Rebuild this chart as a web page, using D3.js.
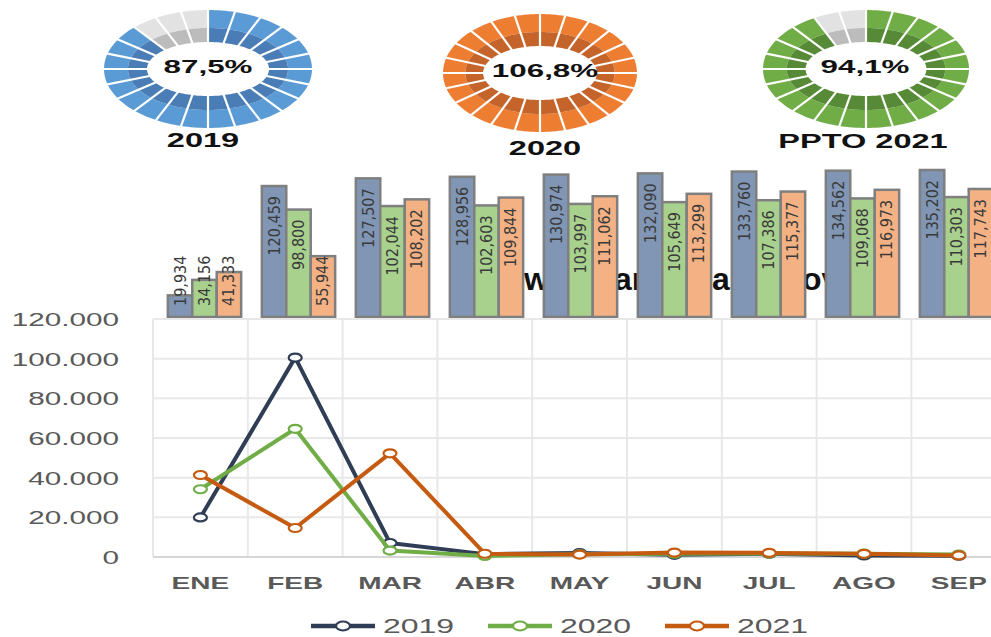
<!DOCTYPE html>
<html>
<head>
<meta charset="utf-8">
<script src="https://cdn.jsdelivr.net/npm/d3@7"></script>
<style>
    body { margin: 0; background: #fff; }
    svg { display: block; font-family: "Liberation Sans", Arial, sans-serif; }
</style>
</head>
<body>
<svg id="chart" width="991" height="637"></svg>
<script>
let months = ["ENE", "FEB", "MAR", "ABR", "MAY", "JUN", "JUL", "AGO", "SEP"];
let years = ["2019", "2020", "2021"];

// accumulated figures (bars)
let acum2019 = [19934, 120459, 127507, 128956, 130974, 132090, 133760, 134562, 135202];
let acum2020 = [34156, 98800, 102044, 102603, 103997, 105649, 107386, 109068, 110303];
let acum2021 = [41333, 55944, 108202, 109844, 111062, 113299, 115377, 116973, 117743];

// monthly figures (lines)
let mes2019 = [19934, 100525, 7048, 1449, 2018, 1116, 1670, 802, 640];
let mes2020 = [34156, 64644, 3244, 559, 1394, 1652, 1737, 1682, 1235];
let mes2021 = [41333, 14611, 52258, 1642, 1218, 2237, 2078, 1596, 770];

let yTicks = [0, 20000, 40000, 60000, 80000, 100000, 120000];

let gaugeNames = ["2019", "2020", "PPTO 2021"];
let gaugePct = [87.5, 106.8, 94.1];

// bits of the title that peek out between the bars
let titleBits = ["w", "ar", "an", "ov"];

let barColors = ["#8096b4", "#a9d18e", "#f4b183"];
let lineColors = ["#2f3d55", "#70ad47", "#c55a11"];

let svg = d3.select("#chart");

let esNum = d3.formatLocale({ decimal: ",", thousands: ".", grouping: [3], currency: ["", ""] });
let enNum = d3.formatLocale({ decimal: ".", thousands: ",", grouping: [3], currency: ["", ""] });

// ---------- gauges ----------
function ringPath(a0, a1, rxo, ryo, rxi, ryi) {
    let pts = [];
    for (let k = 0; k <= 8; k++) {
        let a = a0 + (a1 - a0) * k / 8;
        pts.push([rxo * Math.sin(a), -ryo * Math.cos(a)]);
    }
    for (let k = 8; k >= 0; k--) {
        let a = a0 + (a1 - a0) * k / 8;
        pts.push([rxi * Math.sin(a), -ryi * Math.cos(a)]);
    }
    return d3.line().curve(d3.curveLinearClosed)(pts);
}

function drawGauge(i, cx, cy, rx, light, dark, pctX, labelX, labelY) {
    let g = svg.append("g").attr("transform", "translate(" + cx + "," + cy + ")");
    let n = 24;
    let filled = Math.min(n, Math.floor(gaugePct[i] / 100 * n + 1e-6));
    let k = rx / 104;
    let step = 2 * Math.PI / n;

    for (let s = 0; s < n; s++) {
        let on = s < filled;
        g.append("path")
            .attr("d", ringPath(s * step, (s + 1) * step, 104 * k, 59, 80 * k, 41))
            .attr("fill", on ? light : "#e2e2e2");
        g.append("path")
            .attr("d", ringPath(s * step, (s + 1) * step, 80 * k, 41, 61 * k, 27))
            .attr("fill", on ? dark : "#bcbcbc");
    }
    for (let s = 0; s < n; s++) {
        let a = s * step;
        g.append("line")
            .attr("x1", 58 * k * Math.sin(a)).attr("y1", -25 * Math.cos(a))
            .attr("x2", 108 * k * Math.sin(a)).attr("y2", -62 * Math.cos(a))
            .attr("stroke", "#fff")
            .attr("stroke-width", 2.2);
    }

    svg.append("text")
        .attr("transform", "translate(" + pctX + "," + (cy + 4) + ") scale(1.65,1)")
        .attr("text-anchor", "middle")
        .attr("font-weight", "bold")
        .attr("font-size", 19)
        .attr("fill", "#111")
        .text(esNum.format(".1f")(gaugePct[i]) + "%");

    svg.append("text")
        .attr("transform", "translate(" + labelX + "," + labelY + ") scale(1.55,1)")
        .attr("text-anchor", "middle")
        .attr("font-weight", "bold")
        .attr("font-size", 21)
        .attr("fill", "#111")
        .text(gaugeNames[i]);
}

drawGauge(0, 208, 69, 104, "#5b9bd5", "#4a7db5", 208, 203, 147);
drawGauge(1, 540, 73, 97, "#ed7d31", "#c4642a", 545, 545, 155);
drawGauge(2, 866, 69, 103, "#70ad47", "#578a37", 865, 863, 148);

// ---------- bars (accumulated) ----------
let bitX = [524, 614, 712, 802];
svg.selectAll(".titleBit")
    .data(titleBits)
    .enter()
    .append("text")
    .attr("class", "titleBit")
    .attr("x", (d, i) => bitX[i])
    .attr("y", 290)
    .attr("font-weight", "bold")
    .attr("font-size", 32)
    .attr("fill", "#111")
    .text(d => d);

let acum = [acum2019, acum2020, acum2021];

let xBar = d3.scaleBand()
    .domain(months)
    .range([157.5, 1003.5])
    .paddingInner(0.22)
    .paddingOuter(0.11);

let xSub = d3.scaleBand()
    .domain(years)
    .range([0, xBar.bandwidth()]);

let yBar = d3.scaleLinear()
    .domain([0, d3.max(acum2019)])
    .range([317, 170]);

let barData = [];
months.forEach((m, mi) => {
    years.forEach((y, yi) => {
        barData.push({ month: m, year: y, yi: yi, value: acum[yi][mi] });
    });
});

svg.selectAll(".bar")
    .data(barData)
    .enter()
    .append("rect")
    .attr("class", "bar")
    .attr("x", d => xBar(d.month) + xSub(d.year))
    .attr("y", d => yBar(d.value))
    .attr("width", xSub.bandwidth())
    .attr("height", d => yBar(0) - yBar(d.value))
    .attr("fill", d => barColors[d.yi])
    .attr("stroke", "#7f7f7f")
    .attr("stroke-width", 2.5);

svg.selectAll(".barLabel")
    .data(barData)
    .enter()
    .append("text")
    .attr("class", "barLabel")
    .attr("font-family", "'Liberation Sans Narrow', 'DejaVu Sans Condensed', sans-serif")
    .attr("font-size", 16)
    .attr("fill", "#3a3a3a")
    .attr("text-anchor", "start")
    .attr("dominant-baseline", "central")
    .text(d => enNum.format(",")(d.value))
    .each(function(d) {
        let len = this.getComputedTextLength();
        let cx = xBar(d.month) + xSub(d.year) + xSub.bandwidth() / 2;
        let ys = Math.min(yBar(d.value) + 10 + len, 306);
        d3.select(this).attr("transform", "translate(" + cx + "," + ys + ") rotate(-90)");
    });

// ---------- lines (monthly) ----------
let mes = [mes2019, mes2020, mes2021];

let x = d3.scaleBand()
    .domain(months)
    .range([153, 153 + 9 * 94.8]);

let y = d3.scaleLinear()
    .domain([0, 120000])
    .range([557, 319]);

let grid = svg.append("g");
grid.selectAll(".hgrid")
    .data(yTicks.slice(1))
    .enter()
    .append("line")
    .attr("x1", 153).attr("x2", 991)
    .attr("y1", d => y(d)).attr("y2", d => y(d))
    .attr("stroke", "#e8e8e8")
    .attr("stroke-width", 2);

grid.selectAll(".vgrid")
    .data(months)
    .enter()
    .append("line")
    .attr("x1", d => x(d)).attr("x2", d => x(d))
    .attr("y1", y(120000)).attr("y2", y(0))
    .attr("stroke", "#e8e8e8")
    .attr("stroke-width", 2);

grid.append("line")
    .attr("x1", 153).attr("x2", 991)
    .attr("y1", y(0)).attr("y2", y(0))
    .attr("stroke", "#d6d6d6")
    .attr("stroke-width", 2);

let yAxis = d3.axisLeft(y).tickValues(yTicks).tickSize(0).tickFormat(esNum.format(",d"));
let yG = svg.append("g")
    .attr("transform", "translate(153,0)")
    .call(yAxis);
yG.select(".domain").remove();
yG.selectAll("text")
    .attr("x", 0)
    .attr("dy", "0.36em")
    .attr("transform", "translate(-34,0) scale(1.65,1)")
    .attr("font-family", "'Liberation Sans', Arial, sans-serif")
    .attr("font-size", 18)
    .attr("fill", "#595959");

svg.selectAll(".cat")
    .data(months)
    .enter()
    .append("text")
    .attr("class", "cat")
    .attr("transform", d => "translate(" + (x(d) + x.bandwidth() / 2) + ",589) scale(1.75,1)")
    .attr("text-anchor", "middle")
    .attr("font-weight", "bold")
    .attr("font-size", 16)
    .attr("fill", "#595959")
    .text(d => d);

let line = d3.line()
    .x((d, i) => x(months[i]) + x.bandwidth() / 2)
    .y(d => y(d));

mes.forEach((serie, si) => {
    svg.append("path")
        .datum(serie)
        .attr("fill", "none")
        .attr("stroke", lineColors[si])
        .attr("stroke-width", 4)
        .attr("stroke-linejoin", "round")
        .attr("d", line);

    svg.selectAll(".pt" + si)
        .data(serie)
        .enter()
        .append("ellipse")
        .attr("cx", (d, i) => x(months[i]) + x.bandwidth() / 2)
        .attr("cy", d => y(d))
        .attr("rx", 6.5)
        .attr("ry", 4)
        .attr("fill", "#fff")
        .attr("stroke", lineColors[si])
        .attr("stroke-width", 2.2);
});

// ---------- legend ----------
let legend = svg.selectAll(".legend")
    .data(years)
    .enter()
    .append("g")
    .attr("class", "legend")
    .attr("transform", (d, i) => "translate(" + (311 + i * 177) + ",626)");

legend.append("line")
    .attr("x1", 0).attr("x2", 64)
    .attr("y1", 0).attr("y2", 0)
    .attr("stroke", (d, i) => lineColors[i])
    .attr("stroke-width", 4.5);

legend.append("ellipse")
    .attr("cx", 32).attr("cy", 0)
    .attr("rx", 7).attr("ry", 4.5)
    .attr("fill", "#fff")
    .attr("stroke", (d, i) => lineColors[i])
    .attr("stroke-width", 2.2);

legend.append("text")
    .attr("transform", "translate(72,7) scale(1.6,1)")
    .attr("font-size", 20)
    .attr("fill", "#595959")
    .text(d => d);
</script>
</body>
</html>
